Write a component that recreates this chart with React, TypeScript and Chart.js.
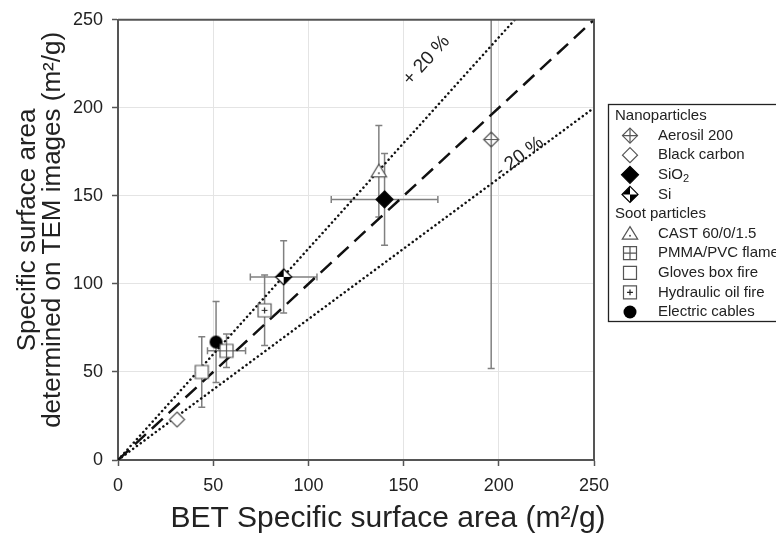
import React, { useEffect, useRef } from 'react';
import { Chart, registerables } from 'chart.js';

Chart.register(...registerables);

// ---------- data ----------
const seriesNames = [
  'Aerosil 200',
  'Black carbon',
  'SiO2',
  'Si',
  'CAST 60/0/1.5',
  'PMMA/PVC flame',
  'Gloves box fire',
  'Hydraulic oil fire',
  'Electric cables',
];
const seriesGroups = [
  'Nanoparticles',
  'Nanoparticles',
  'Nanoparticles',
  'Nanoparticles',
  'Soot particles',
  'Soot particles',
  'Soot particles',
  'Soot particles',
  'Soot particles',
];
const betValues = [196, 31, 140, 87, 137, 57, 44, 77, 51.5];
const temValues = [182, 23, 148, 104, 164, 62, 50, 85, 67];
const betErrors = [0, 0, 28, 17.5, 0, 10, 0, 0, 0];
const temErrors = [130, 0, 26, 20.5, 26, 9.5, 20, 20, 23];
const markerKinds = [
  'diamondPlus',
  'diamond',
  'diamondFilled',
  'diamondHalf',
  'triangleDot',
  'squareGrid',
  'square',
  'squarePlus',
  'circleFilled',
];
const axisTicks = [0, 50, 100, 150, 200, 250];
const axisMax = 250;
const deviation = 0.2;
const lineLabels = ['+ 20 %', '- 20 %'];
const lineLabelPos = [
  [162, 227],
  [211, 172],
];
const xTitle = 'BET Specific surface area (m\u00b2/g)';
const yTitle = ['Specific surface area', 'determined on TEM images (m\u00b2/g)'];

const FONT = "'Liberation Sans', Arial, sans-serif";

// ---------- markers ----------
const markerSize: Record<string, number> = {
  diamondPlus: 7.5,
  diamond: 7.5,
  diamondFilled: 8.5,
  diamondHalf: 8,
  triangleDot: 7,
  squareGrid: 6.5,
  square: 6.5,
  squarePlus: 6.5,
  circleFilled: 6.5,
};

function drawMarker(ctx: CanvasRenderingContext2D, kind: string, cx: number, cy: number, s: number) {
  ctx.save();
  ctx.lineWidth = 1.2;
  ctx.strokeStyle = '#555';
  ctx.fillStyle = '#fff';
  const diamond = () => {
    ctx.beginPath();
    ctx.moveTo(cx, cy - s);
    ctx.lineTo(cx + s, cy);
    ctx.lineTo(cx, cy + s);
    ctx.lineTo(cx - s, cy);
    ctx.closePath();
  };
  const square = () => {
    ctx.beginPath();
    ctx.rect(cx - s, cy - s, 2 * s, 2 * s);
  };
  switch (kind) {
    case 'diamond':
      diamond();
      ctx.fill();
      ctx.stroke();
      break;
    case 'diamondPlus':
      diamond();
      ctx.fill();
      ctx.stroke();
      ctx.beginPath();
      ctx.moveTo(cx, cy - s);
      ctx.lineTo(cx, cy + s);
      ctx.moveTo(cx - s, cy);
      ctx.lineTo(cx + s, cy);
      ctx.stroke();
      break;
    case 'diamondFilled':
      ctx.fillStyle = '#000';
      ctx.strokeStyle = '#000';
      diamond();
      ctx.fill();
      ctx.stroke();
      break;
    case 'diamondHalf':
      diamond();
      ctx.fill();
      ctx.fillStyle = '#000';
      ctx.beginPath();
      ctx.moveTo(cx, cy);
      ctx.lineTo(cx - s, cy);
      ctx.lineTo(cx, cy - s);
      ctx.closePath();
      ctx.moveTo(cx, cy);
      ctx.lineTo(cx + s, cy);
      ctx.lineTo(cx, cy + s);
      ctx.closePath();
      ctx.fill();
      ctx.strokeStyle = '#000';
      diamond();
      ctx.stroke();
      break;
    case 'triangleDot':
      ctx.beginPath();
      ctx.moveTo(cx, cy - s);
      ctx.lineTo(cx + s * 1.1, cy + s * 0.8);
      ctx.lineTo(cx - s * 1.1, cy + s * 0.8);
      ctx.closePath();
      ctx.fill();
      ctx.stroke();
      ctx.fillStyle = '#555';
      ctx.beginPath();
      ctx.arc(cx, cy + s * 0.3, 1, 0, Math.PI * 2);
      ctx.fill();
      break;
    case 'squareGrid':
      square();
      ctx.fill();
      ctx.stroke();
      ctx.beginPath();
      ctx.moveTo(cx, cy - s);
      ctx.lineTo(cx, cy + s);
      ctx.moveTo(cx - s, cy);
      ctx.lineTo(cx + s, cy);
      ctx.stroke();
      break;
    case 'square':
      square();
      ctx.fill();
      ctx.stroke();
      break;
    case 'squarePlus':
      square();
      ctx.fill();
      ctx.stroke();
      ctx.strokeStyle = '#222';
      ctx.beginPath();
      ctx.moveTo(cx, cy - s * 0.45);
      ctx.lineTo(cx, cy + s * 0.45);
      ctx.moveTo(cx - s * 0.45, cy);
      ctx.lineTo(cx + s * 0.45, cy);
      ctx.stroke();
      break;
    case 'circleFilled':
      ctx.fillStyle = '#000';
      ctx.beginPath();
      ctx.arc(cx, cy, s, 0, Math.PI * 2);
      ctx.fill();
      break;
  }
  ctx.restore();
}

function makeMarkerCanvas(kind: string): HTMLCanvasElement {
  const s = markerSize[kind];
  const size = Math.ceil(2 * s + 4);
  const c = document.createElement('canvas');
  c.width = size;
  c.height = size;
  const ctx = c.getContext('2d')!;
  drawMarker(ctx, kind, size / 2, size / 2, s);
  return c;
}

// ---------- overlay plugin ----------
const overlayPlugin = {
  id: 'overlay',
  beforeDatasetsDraw(chart: any) {
    const { ctx, chartArea, scales } = chart;
    const xs = scales.x;
    const ys = scales.y;
    ctx.save();
    ctx.beginPath();
    ctx.rect(chartArea.left, chartArea.top, chartArea.right - chartArea.left, chartArea.bottom - chartArea.top);
    ctx.clip();
    ctx.strokeStyle = '#808080';
    ctx.lineWidth = 1.5;
    const cap = 3.5;
    betValues.forEach((bx, i) => {
      const px = xs.getPixelForValue(bx);
      const py = ys.getPixelForValue(temValues[i]);
      const ye = temErrors[i];
      if (ye > 0) {
        const t = ys.getPixelForValue(temValues[i] + ye);
        const b = ys.getPixelForValue(temValues[i] - ye);
        ctx.beginPath();
        ctx.moveTo(px, t);
        ctx.lineTo(px, b);
        ctx.moveTo(px - cap, t);
        ctx.lineTo(px + cap, t);
        ctx.moveTo(px - cap, b);
        ctx.lineTo(px + cap, b);
        ctx.stroke();
      }
      const xe = betErrors[i];
      if (xe > 0) {
        const l = xs.getPixelForValue(bx - xe);
        const r = xs.getPixelForValue(bx + xe);
        ctx.beginPath();
        ctx.moveTo(l, py);
        ctx.lineTo(r, py);
        ctx.moveTo(l, py - cap);
        ctx.lineTo(l, py + cap);
        ctx.moveTo(r, py - cap);
        ctx.lineTo(r, py + cap);
        ctx.stroke();
      }
    });
    ctx.restore();
  },
  afterDatasetsDraw(chart: any) {
    const { ctx, chartArea, scales } = chart;
    const xs = scales.x;
    const ys = scales.y;
    ctx.save();
    // line labels
    ctx.fillStyle = '#222';
    ctx.font = `19px ${FONT}`;
    ctx.textAlign = 'center';
    ctx.textBaseline = 'middle';
    const slopes = [1 + deviation, 1 - deviation];
    lineLabels.forEach((lab, i) => {
      const [lx, ly] = lineLabelPos[i];
      const px = xs.getPixelForValue(lx);
      const py = ys.getPixelForValue(ly);
      const dx = xs.getPixelForValue(100) - xs.getPixelForValue(0);
      const dy = ys.getPixelForValue(100 * slopes[i]) - ys.getPixelForValue(0);
      const ang = Math.atan2(dy, dx);
      ctx.save();
      ctx.translate(px, py);
      ctx.rotate(ang);
      ctx.fillText(lab, 0, 0);
      ctx.restore();
    });
    // frame top & right
    ctx.strokeStyle = '#555';
    ctx.lineWidth = 2;
    ctx.beginPath();
    ctx.moveTo(chartArea.left, chartArea.top);
    ctx.lineTo(chartArea.right, chartArea.top);
    ctx.lineTo(chartArea.right, chartArea.bottom);
    ctx.stroke();
    ctx.restore();
  },
  afterDraw(chart: any) {
    const { ctx, chartArea } = chart;
    ctx.save();
    ctx.fillStyle = '#222';
    // x title
    ctx.font = `30px ${FONT}`;
    ctx.textAlign = 'center';
    ctx.textBaseline = 'alphabetic';
    ctx.fillText(xTitle, (chartArea.left + chartArea.right) / 2 + 32, chartArea.bottom + 67);
    // y title
    ctx.font = `26px ${FONT}`;
    const yc = (chartArea.top + chartArea.bottom) / 2 - 10;
    const bases = [35, 60];
    yTitle.forEach((t, i) => {
      ctx.save();
      ctx.translate(bases[i], yc);
      ctx.rotate(-Math.PI / 2);
      ctx.fillText(t, 0, 0);
      ctx.restore();
    });
    // legend
    const lx = chartArea.right + 14;
    const top = 104;
    const rowH = 19.6;
    const firstRow = 116;
    const rows: { type: string; text: string; idx?: number }[] = [];
    let lastGroup = '';
    seriesNames.forEach((n, i) => {
      if (seriesGroups[i] !== lastGroup) {
        rows.push({ type: 'header', text: seriesGroups[i] });
        lastGroup = seriesGroups[i];
      }
      rows.push({ type: 'item', text: n, idx: i });
    });
    const bottom = firstRow + (rows.length - 1) * rowH + 9;
    ctx.strokeStyle = '#222';
    ctx.lineWidth = 1.3;
    ctx.strokeRect(lx + 0.5, top + 0.5, 260, bottom - top);
    ctx.textAlign = 'left';
    ctx.textBaseline = 'middle';
    ctx.font = `15px ${FONT}`;
    rows.forEach((r, k) => {
      const y = firstRow + k * rowH;
      if (r.type === 'header') {
        ctx.fillStyle = '#222';
        ctx.fillText(r.text, lx + 7, y);
      } else {
        const kind = markerKinds[r.idx!];
        drawMarker(ctx, kind, lx + 22, y, markerSize[kind]);
        ctx.fillStyle = '#222';
        if (r.text === 'SiO2') {
          ctx.fillText('SiO', lx + 50, y);
          const w = ctx.measureText('SiO').width;
          ctx.font = `11px ${FONT}`;
          ctx.fillText('2', lx + 50 + w, y + 4);
          ctx.font = `15px ${FONT}`;
        } else {
          ctx.fillText(r.text, lx + 50, y);
        }
      }
    });
    ctx.restore();
  },
};

export default function App() {
  const ref = useRef<HTMLCanvasElement | null>(null);
  useEffect(() => {
    const canvas = ref.current;
    if (!canvas) return;
    const pointSets = seriesNames.map((name, i) => ({
      type: 'scatter' as const,
      label: name,
      data: [{ x: betValues[i], y: temValues[i] }],
      pointStyle: makeMarkerCanvas(markerKinds[i]),
      pointRadius: 7,
      showLine: false,
      order: 1,
    }));
    const dotted = {
      borderColor: '#111',
      borderWidth: 2.5,
      borderDash: [0.1, 4.6],
      borderCapStyle: 'round' as const,
      pointRadius: 0,
      showLine: true,
      order: 10,
    };
    const lineSets = [
      {
        type: 'line' as const,
        label: '1:1',
        data: [
          { x: 0, y: 0 },
          { x: axisMax, y: axisMax },
        ],
        borderColor: '#111',
        borderWidth: 2.5,
        borderDash: [15, 8],
        pointRadius: 0,
        showLine: true,
        order: 10,
      },
      {
        type: 'line' as const,
        label: '+20%',
        data: [
          { x: 0, y: 0 },
          { x: axisMax / (1 + deviation), y: axisMax },
        ],
        ...dotted,
      },
      {
        type: 'line' as const,
        label: '-20%',
        data: [
          { x: 0, y: 0 },
          { x: axisMax, y: axisMax * (1 - deviation) },
        ],
        ...dotted,
      },
    ];
    const axisCommon = (fitKey: 'width' | 'height', fitVal: number) => ({
      type: 'linear' as const,
      min: 0,
      max: axisMax,
      afterBuildTicks: (scale: any) => {
        scale.ticks = axisTicks.map((v) => ({ value: v }));
      },
      afterFit: (scale: any) => {
        scale[fitKey] = fitVal;
      },
      ticks: {
        font: { family: FONT, size: 18 },
        color: '#222',
        padding: 9,
      },
      grid: {
        color: '#e4e4e4',
        lineWidth: 1,
        tickColor: '#555',
        tickLength: 6,
        tickWidth: 1.5,
      },
      border: { color: '#555', width: 2 },
    });
    const chart = new Chart(canvas, {
      type: 'scatter',
      data: { datasets: [...pointSets, ...lineSets] as any },
      options: {
        responsive: false,
        animation: false,
        events: [],
        layout: { padding: { left: 0, top: 19, right: 182, bottom: 0 } },
        plugins: {
          legend: { display: false },
          tooltip: { enabled: false },
        },
        scales: {
          x: axisCommon('height', 73),
          y: axisCommon('width', 118),
        },
      } as any,
      plugins: [overlayPlugin],
    });
    return () => chart.destroy();
  }, []);
  return (
    <div style={{ position: 'fixed', left: 0, top: 0, width: 776, height: 533, background: '#fff' }}>
      <canvas ref={ref} width={776} height={533} style={{ display: 'block' }} />
    </div>
  );
}
